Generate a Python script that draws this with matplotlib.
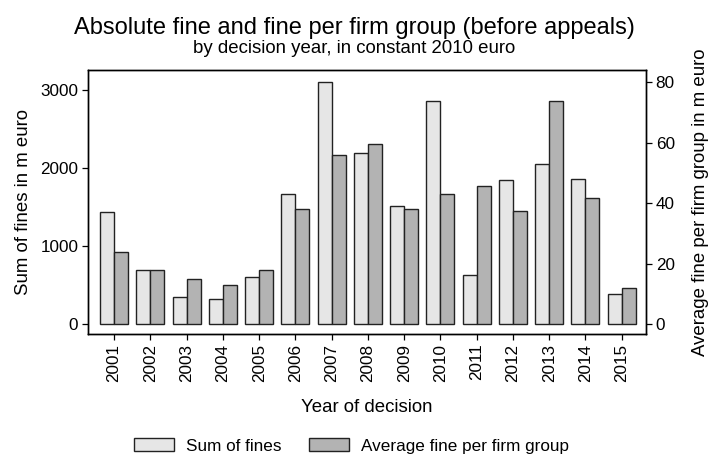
import matplotlib.pyplot as plt
import numpy as np

plt.rcParams['font.family'] = ['Liberation Sans', 'DejaVu Sans']

# data
years = [2001, 2002, 2003, 2004, 2005, 2006, 2007, 2008,
         2009, 2010, 2011, 2012, 2013, 2014, 2015]
sum_fines = [1436, 700, 345, 324, 601, 1662, 3102, 2190,
             1508, 2851, 635, 1845, 2050, 1858, 384]
avg_fine = [23.9, 17.8, 15.0, 13.1, 18.0, 38.1, 55.9, 59.5,
            38.0, 42.9, 45.7, 37.3, 73.7, 41.8, 12.1]

LIGHT = '#e6e6e6'
DARK = '#b3b3b3'
EDGE = '#222222'

fig = plt.figure(figsize=(7.08, 4.57), dpi=100)
ax = fig.add_axes([88 / 708, 1 - 334 / 457, (646 - 88) / 708, (334 - 70) / 457])
ax2 = ax.twinx()

x = np.arange(len(years))
w = 0.386
b1 = ax.bar(x - w / 2, sum_fines, width=w, color=LIGHT, edgecolor=EDGE,
            linewidth=1.0, label='Sum of fines')
b2 = ax2.bar(x + w / 2, avg_fine, width=w, color=DARK, edgecolor=EDGE,
             linewidth=1.0, label='Average fine per firm group')

ax.set_xlim(-0.72, len(years) - 1 + 0.67)
ax.set_ylim(-124, 3251)
ax2.set_ylim(-3.2, 84.0)
ax.set_yticks([0, 1000, 2000, 3000])
ax2.set_yticks([0, 20, 40, 60, 80])
ax.set_xticks(x)
ax.set_xticklabels([str(y) for y in years], rotation=90)

for a in (ax, ax2):
    a.tick_params(direction='out', length=4.5, width=0.9, labelsize=12.3,
                  colors='black', pad=2.5)
    for s in a.spines.values():
        s.set_linewidth(1.0)
        s.set_color('black')

ax.set_ylabel('Sum of fines in m euro', fontsize=13.4, labelpad=6)
ax2.set_ylabel('Average fine per firm group in m euro', fontsize=13.4, labelpad=12)
ax.set_xlabel('Year of decision', fontsize=13.4, labelpad=12)

fig.text(0.5, 1 - 34 / 457, 'Absolute fine and fine per firm group (before appeals)',
         ha='center', va='baseline', fontsize=17)
fig.text(0.5, 1 - 53 / 457, 'by decision year, in constant 2010 euro',
         ha='center', va='baseline', fontsize=13.4)

fig.legend(handles=[b1, b2], loc='center', bbox_to_anchor=(351.5 / 708, 1 - 446 / 457),
           ncol=2, frameon=False, fontsize=12.3, handlelength=2.34, handleheight=0.75,
           handletextpad=0.7, columnspacing=1.58, borderpad=0, borderaxespad=0)

fig.savefig('out.png', dpi=100)
